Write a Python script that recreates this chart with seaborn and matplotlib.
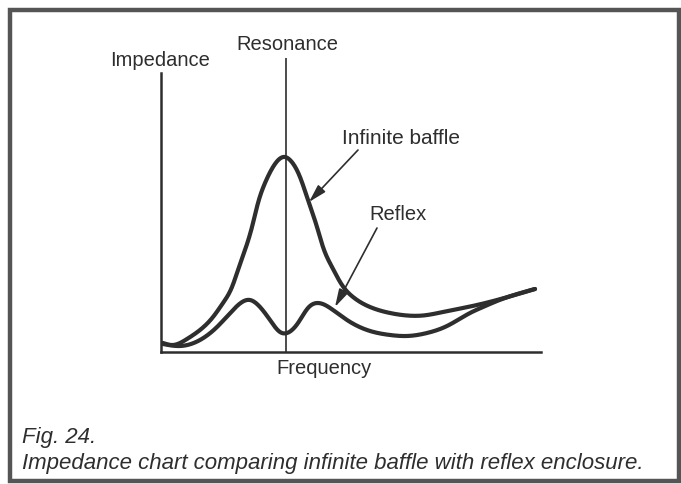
import numpy as np
import matplotlib
matplotlib.use("Agg")
import matplotlib.pyplot as plt
import seaborn as sns
from matplotlib.patches import Rectangle

# ---- data (frequency in arbitrary units, impedance in arbitrary units) ----
inf_freq = [2, 12, 26, 39, 52, 62, 71, 77, 84, 91, 97, 104, 112, 124, 129,
            139, 147, 156, 162, 171, 181, 192, 209, 229, 246, 262, 282, 316, 336, 374]
inf_imp = [9, 7, 13, 22, 35, 49, 65, 82, 102, 125, 149, 169, 185, 195, 192,
           175, 152, 125, 105, 85, 67, 55, 45, 39, 36.5, 36.5, 40, 47, 52, 63]
ref_freq = [2, 19, 39, 56, 72, 89, 99, 109, 119, 126, 137, 147, 157, 172,
            186, 206, 229, 246, 266, 286, 309, 322, 336, 374]
ref_imp = [8, 6, 12, 25, 42, 52, 45, 32, 20, 19, 29, 44, 49, 42,
           32, 22, 17, 16, 19, 26, 39, 45, 51, 63]
resonance_freq = 125

label_y = "Impedance"
label_x = "Frequency"
label_res = "Resonance"
label_inf = "Infinite baffle"
label_ref = "Reflex"
fig_no = "Fig. 24."
caption = "Impedance chart comparing infinite baffle with reflex enclosure."

INK = "#2e2e2e"
W, H = 681, 484


def smooth(xs, ys, n=800):
    """Natural cubic spline through the read points (for drawing only)."""
    x = np.asarray(xs, float)
    y = np.asarray(ys, float)
    k = len(x)
    h = np.diff(x)
    A = np.zeros((k, k))
    b = np.zeros(k)
    A[0, 0] = A[-1, -1] = 1.0
    for i in range(1, k - 1):
        A[i, i - 1] = h[i - 1]
        A[i, i] = 2 * (h[i - 1] + h[i])
        A[i, i + 1] = h[i]
        b[i] = 6 * ((y[i + 1] - y[i]) / h[i] - (y[i] - y[i - 1]) / h[i - 1])
    M = np.linalg.solve(A, b)
    xx = np.linspace(x[0], x[-1], n)
    idx = np.clip(np.searchsorted(x, xx) - 1, 0, k - 2)
    x0, x1 = x[idx], x[idx + 1]
    hh = x1 - x0
    yy = (M[idx] * (x1 - xx) ** 3 / (6 * hh) + M[idx + 1] * (xx - x0) ** 3 / (6 * hh)
          + (y[idx] / hh - M[idx] * hh / 6) * (x1 - xx)
          + (y[idx + 1] / hh - M[idx + 1] * hh / 6) * (xx - x0))
    return xx, yy


sns.set_theme(style="white")
plt.rcParams["font.family"] = ["Liberation Sans", "DejaVu Sans"]

fig = plt.figure(figsize=(W / 100, H / 100), dpi=100)
fig.patch.set_facecolor("white")

# frame around the whole figure
fig.patches.append(Rectangle((9.5 / W, 1 - 480.5 / H), (679 - 9.5) / W, (480.5 - 10) / H,
                             transform=fig.transFigure, fill=False,
                             edgecolor="#555555", linewidth=3.2))

ax = fig.add_axes([161 / W, 1 - 352 / H, 380 / W, 294 / H])
ax.set_facecolor("none")
ax.set_xlim(0, 380)
ax.set_ylim(0, 294)
for s in ("top", "right"):
    ax.spines[s].set_visible(False)
for s in ("left", "bottom"):
    ax.spines[s].set_color(INK)
    ax.spines[s].set_linewidth(1.8)
ax.spines["left"].set_bounds(0, 279)
ax.set_xticks([]); ax.set_yticks([])

ax.axvline(resonance_freq, ymin=0, ymax=1, color=INK, lw=1.2)

xs, ys = smooth(inf_freq, inf_imp)
sns.lineplot(x=xs, y=ys, ax=ax, sort=False, estimator=None, color=INK, lw=3.0)
xs, ys = smooth(ref_freq, ref_imp)
sns.lineplot(x=xs, y=ys, ax=ax, sort=False, estimator=None, color=INK, lw=3.0)

arrow = dict(arrowstyle="-|>,head_length=0.9,head_width=0.25", color=INK, lw=1.2,
             shrinkA=0, shrinkB=0)
ax.annotate("", xy=(148, 150), xytext=(197, 202), arrowprops=arrow, annotation_clip=False)
ax.annotate("", xy=(174, 45), xytext=(216, 124), arrowprops=arrow, annotation_clip=False)

fs = 14.5
def ftext(px, py, s, **kw):
    fig.text(px / W, 1 - py / H, s, color=INK, **kw)

ftext(160.5, 61, label_y, ha="center", va="center", fontsize=fs)
ftext(287.5, 44, label_res, ha="center", va="center", fontsize=fs)
ftext(401, 139, label_inf, ha="center", va="center", fontsize=15)
ftext(398, 214, label_ref, ha="center", va="center", fontsize=fs)
ftext(323.5, 368, label_x, ha="center", va="center", fontsize=fs)

cap_family = ["Liberation Sans Narrow", "Liberation Sans", "DejaVu Sans"]
ftext(22, 437, fig_no, ha="left", va="center", fontsize=16, style="italic",
      family=cap_family)
ftext(22, 463, caption, ha="left", va="center", fontsize=16, style="italic",
      family=cap_family)

fig.savefig("out.png", dpi=100, facecolor="white")
